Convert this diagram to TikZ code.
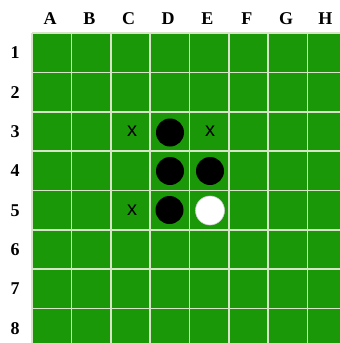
\documentclass[tikz,border=0pt]{standalone}
\usepackage{fontspec}
\setmainfont{Liberation Serif}
\newfontfamily\marksans{Liberation Sans}
\definecolor{boardgreen}{RGB}{26,152,8}
\definecolor{gridline}{RGB}{214,228,200}
\begin{document}
\begin{tikzpicture}[x=1pt,y=-1pt,
  lbl/.style={font=\fontsize{18}{18}\selectfont\bfseries, inner sep=0pt},
  blackdisc/.style={circle, fill=black, minimum size=28pt, inner sep=0pt},
  whitedisc/.style={circle, fill=white, draw=gray!40, line width=0.6pt, minimum size=29pt, inner sep=0pt},
  hint/.style={font=\marksans\fontsize{20}{20}\selectfont, inner sep=0pt}]
\useasboundingbox (0,0) rectangle (340,343);
\def\pitch{39.35}
\begin{scope}
\clip (0,0) rectangle (340,343);
\fill[boardgreen] (32,33) rectangle (32+8*\pitch,33+8*\pitch);
\foreach \i in {0,...,8} {
  \draw[gridline, line width=1.6pt] (32+\i*\pitch,33) -- (32+\i*\pitch,33+8*\pitch);
  \draw[gridline, line width=1.6pt] (32,33+\i*\pitch) -- (32+8*\pitch,33+\i*\pitch);
}
\end{scope}
\foreach \c [count=\i from 0] in {A,B,C,D,E,F,G,H}
  \node[lbl] (col\c) at (50+\i*\pitch,19) {\c};
\foreach \r [count=\i from 0] in {1,...,8}
  \node[lbl] (row\r) at (15,53+\i*\pitch) {\r};
% discs
\node[blackdisc] (d3) at (170,132.5) {};
\node[blackdisc] (d4) at (170,171) {};
\node[blackdisc] (e4) at (210,171) {};
\node[blackdisc] (d5) at (169.5,210) {};
\node[whitedisc] (e5) at (210,210.5) {};
% hints
\node[hint] (c3) at (132,131.5) {x};
\node[hint] (e3) at (210,131.5) {x};
\node[hint] (c5) at (132,210.5) {x};
\end{tikzpicture}
\end{document}
